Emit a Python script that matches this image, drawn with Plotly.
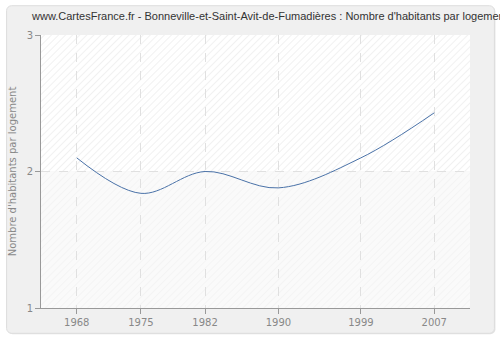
import base64
import plotly.graph_objects as go

years = [1968, 1975, 1982, 1990, 1999, 2007]
values = [2.10, 1.84, 2.00, 1.88, 2.10, 2.43]
tick_labels = ["1968", "1975", "1982", "1990", "1999", "2007"]
y_ticks = [1, 2, 3]

title = "www.CartesFrance.fr - Bonneville-et-Saint-Avit-de-Fumadières : Nombre d'habitants par logement"

# figure geometry (pixels)
FW, FH = 500, 340
ML, MR, MT, MB = 40, 30, 35, 30
PW, PH = FW - ML - MR, FH - MT - MB

# background: white page, rounded light-grey card, hatched plot area
bg_svg = f"""<svg xmlns='http://www.w3.org/2000/svg' width='{FW}' height='{FH}'>
<defs>
<pattern id='a' width='5' height='5' patternUnits='userSpaceOnUse' patternTransform='rotate(45)'>
<rect width='5' height='5' fill='#ffffff'/><line x1='0' y1='0' x2='0' y2='5' stroke='#e9e9e9' stroke-width='1.2'/></pattern>
<pattern id='b' width='5' height='5' patternUnits='userSpaceOnUse' patternTransform='rotate(45)'>
<rect width='5' height='5' fill='#fafafa'/><line x1='0' y1='0' x2='0' y2='5' stroke='#f1f1f1' stroke-width='1.2'/></pattern>
</defs>
<rect width='{FW}' height='{FH}' fill='#ffffff'/>
<rect x='6.5' y='6.5' width='489' height='330' rx='5' fill='#e4e4e4'/>
<rect x='5.5' y='5.5' width='489' height='330' rx='5' fill='#f0f0f0' stroke='#dddddd' stroke-width='1'/>
<rect x='{ML}' y='{MT}' width='{PW}' height='{PH/2}' fill='url(#a)'/>
<rect x='{ML}' y='{MT + PH/2}' width='{PW}' height='{PH/2}' fill='url(#b)'/>
</svg>"""
bg_src = "data:image/svg+xml;base64," + base64.b64encode(bg_svg.encode()).decode()

fig = go.Figure()
fig.add_trace(go.Scatter(
    x=years, y=values, mode="lines",
    line=dict(color="#4a72a8", width=1, shape="spline", smoothing=1.0),
    hoverinfo="skip", showlegend=False,
))

fig.update_layout(
    width=FW, height=FH,
    margin=dict(l=ML, r=MR, t=MT, b=MB),
    paper_bgcolor="#ffffff",
    plot_bgcolor="rgba(0,0,0,0)",
    title=dict(text=title, x=32 / FW, xanchor="left", xref="container", y=1 - 16 / FH,
               yanchor="middle", yref="container",
               font=dict(family="Liberation Sans", size=11, color="#333")),
    font=dict(family="DejaVu Sans", size=10, color="#888"),
    xaxis=dict(range=[1964.1, 2010.9], tickvals=years, ticktext=tick_labels,
               showgrid=True, gridcolor="#e0e0e0", griddash="dash", gridwidth=1,
               showline=True, linecolor="#999", linewidth=1,
               ticks="outside", ticklen=5, tickcolor="#999",
               zeroline=False, fixedrange=True),
    yaxis=dict(range=[1, 3], tickvals=y_ticks,
               title=dict(text="Nombre d'habitants par logement", font=dict(size=10, color="#888"), standoff=8),
               showgrid=True, gridcolor="#e0e0e0", griddash="dash", gridwidth=1,
               showline=True, linecolor="#999", linewidth=1,
               ticks="outside", ticklen=5, tickcolor="#999",
               zeroline=False, fixedrange=True),
    images=[dict(source=bg_src, xref="paper", yref="paper",
                 x=-ML / PW, y=1 + MT / PH, sizex=FW / PW, sizey=FH / PH,
                 sizing="stretch", xanchor="left", yanchor="top", layer="below")],
)

fig.write_html("out.html")
